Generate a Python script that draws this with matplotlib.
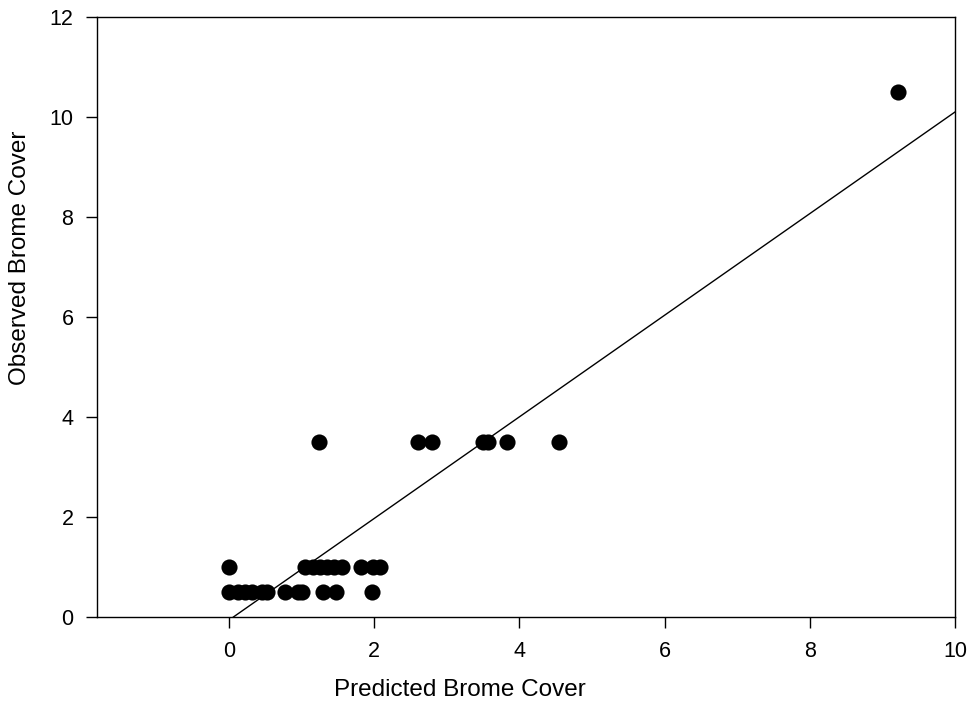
import numpy as np
import matplotlib.pyplot as plt

plt.rcParams['font.family'] = ['Liberation Sans', 'DejaVu Sans']

# observed vs predicted brome cover
pred_low = [0.0, 0.12, 0.22, 0.32, 0.45, 0.52, 0.77, 0.95, 1.0, 1.3, 1.47, 1.97]
obs_low = [0.5] * len(pred_low)
pred_one = [0.0, 1.05, 1.15, 1.25, 1.35, 1.45, 1.55, 1.82, 1.98, 2.08]
obs_one = [1.0] * len(pred_one)
pred_mid = [1.24, 2.6, 2.8, 3.5, 3.57, 3.83, 4.54]
obs_mid = [3.5] * len(pred_mid)
pred_high = [9.21]
obs_high = [10.5]

slope = 1.016
intercept = -0.06

x = pred_low + pred_one + pred_mid + pred_high
y = obs_low + obs_one + obs_mid + obs_high

fig = plt.figure(figsize=(9.71, 7.04), dpi=100)
ax = fig.add_axes([97 / 971, 1 - 617 / 704, (955 - 97) / 971, 600 / 704])

ax.scatter(x, y, s=135, color='black', zorder=3, linewidths=0)
lx = np.array([-intercept / slope, 10])
ax.plot(lx, slope * lx + intercept, color='black', lw=1)

ax.set_xlim(-1.82, 10)
ax.set_ylim(0, 12)
ax.set_xticks(range(0, 11, 2))
ax.set_yticks(range(0, 13, 2))
ax.tick_params(direction='out', length=8, width=1, labelsize=15.5, pad=9)
for s in ax.spines.values():
    s.set_linewidth(1)
ax.set_xlabel('Predicted Brome Cover', fontsize=17.5)
ax.set_ylabel('Observed Brome Cover', fontsize=17.5)
ax.xaxis.set_label_coords(0.423, -0.122)
ax.yaxis.set_label_coords(-0.0897, 0.598)
ax.xaxis.label.set_va('center')
ax.yaxis.label.set_va('center')

fig.savefig('out.png', dpi=100)
